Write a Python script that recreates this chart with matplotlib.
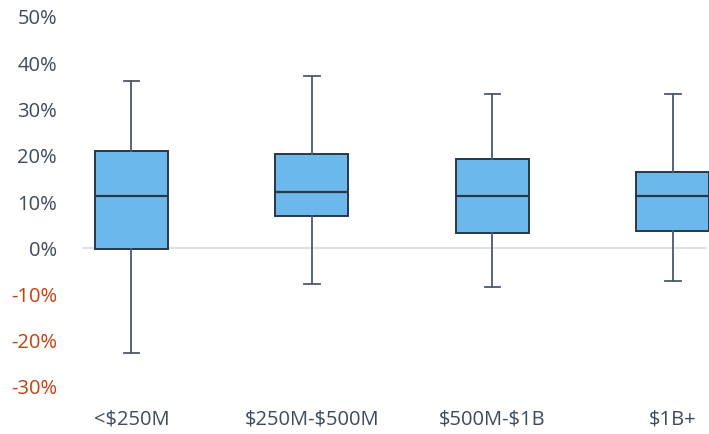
import matplotlib.pyplot as plt

# values (fractions)
categories = ["<\\$250M", "\\$250M-\\$500M", "\\$500M-\\$1B", "\\$1B+"]
whisker_low = [-0.227, -0.078, -0.084, -0.071]
q1 = [-0.002, 0.069, 0.032, 0.038]
median = [0.113, 0.121, 0.113, 0.113]
q3 = [0.210, 0.203, 0.193, 0.165]
whisker_high = [0.361, 0.372, 0.333, 0.333]
y_ticks = [-0.3, -0.2, -0.1, 0.0, 0.1, 0.2, 0.3, 0.4, 0.5]

plt.rcParams['font.family'] = ['Open Sans', 'DejaVu Sans']

fig = plt.figure(figsize=(7.09, 4.34), dpi=100)
ax = fig.add_axes([82 / 709, 1 - 387 / 434, 1 - 82 / 709, 370 / 434])

stats = []
for i, name in enumerate(categories):
    stats.append({
        'label': name,
        'whislo': whisker_low[i],
        'q1': q1[i],
        'med': median[i],
        'q3': q3[i],
        'whishi': whisker_high[i],
        'fliers': [],
    })

edge = '#2b3647'
whisk = '#4d5868'
ax.bxp(stats, positions=range(len(categories)), widths=0.405,
       patch_artist=True, showfliers=False, capwidths=0.085,
       boxprops=dict(facecolor='#6db8ea', edgecolor=edge, linewidth=1.4),
       medianprops=dict(color=edge, linewidth=1.6),
       whiskerprops=dict(color=whisk, linewidth=1.3),
       capprops=dict(color=whisk, linewidth=1.3))

ax.axhline(0, color='#d8dbe2', linewidth=1.2, zorder=0, xmax=(706 - 82) / (709 - 82))

ax.set_xlim(-0.274, 3.2)
ax.set_ylim(-0.3, 0.5)
ax.set_yticks(y_ticks)
ax.set_yticklabels([f"{round(v * 100)}%" for v in y_ticks])
for lab, v in zip(ax.get_yticklabels(), y_ticks):
    lab.set_color('#c4400f' if v < 0 else '#3f4a5a')
ax.tick_params(axis='y', length=0, pad=18, labelsize=14.5)
ax.tick_params(axis='x', length=0, pad=16, labelsize=14.5, labelcolor='#3f4a5a')

for s in ax.spines.values():
    s.set_visible(False)

fig.savefig('out.png', dpi=100)
